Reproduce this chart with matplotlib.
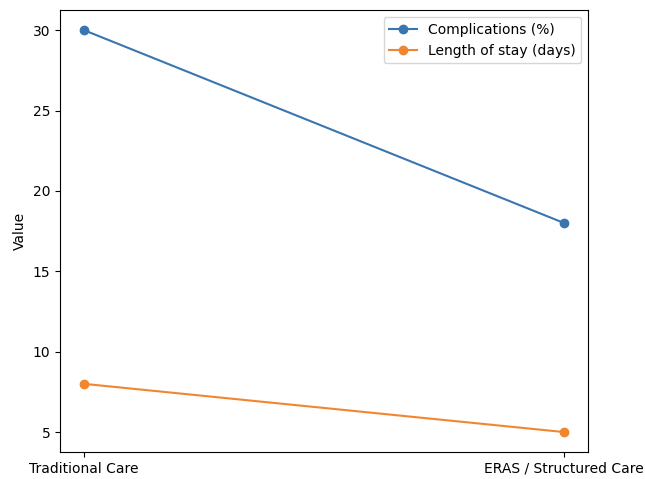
import matplotlib
matplotlib.use('Agg')
import matplotlib.pyplot as plt

groups = ['Traditional Care', 'ERAS / Structured Care']
complications = [30, 18]
length_of_stay = [8, 5]

fig = plt.figure(figsize=(6.45, 4.79), dpi=100)
ax = fig.add_axes([0.093, 0.056, 0.819, 0.923])

x = range(len(groups))
ax.plot(x, complications, marker='o', color='#3a75b0', label='Complications (%)')
ax.plot(x, length_of_stay, marker='o', color='#f0872f', label='Length of stay (days)')

ax.set_xticks(list(x))
ax.set_xticklabels(groups)
ax.set_ylabel('Value')
ax.legend(loc='upper right')

fig.savefig('out.png', dpi=100)
